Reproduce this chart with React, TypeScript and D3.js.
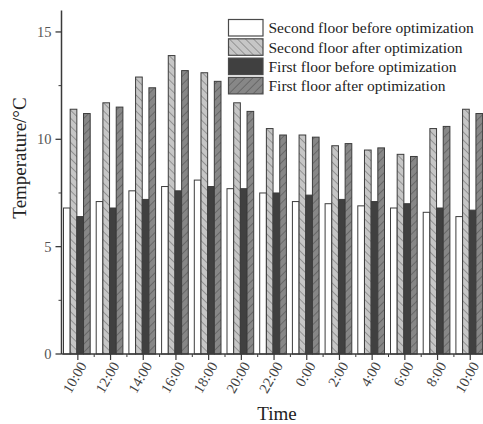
import React from "react";
import * as d3 from "d3";

const categories = ["10:00", "12:00", "14:00", "16:00", "18:00", "20:00", "22:00", "0:00", "2:00", "4:00", "6:00", "8:00", "10:00 "];
const secondBefore = [6.8, 7.1, 7.6, 7.8, 8.1, 7.7, 7.5, 7.1, 7.0, 6.9, 6.8, 6.6, 6.4];
const secondAfter = [11.4, 11.7, 12.9, 13.9, 13.1, 11.7, 10.5, 10.2, 9.7, 9.5, 9.3, 10.5, 11.4];
const firstBefore = [6.4, 6.8, 7.2, 7.6, 7.8, 7.7, 7.5, 7.4, 7.2, 7.1, 7.0, 6.8, 6.7];
const firstAfter = [11.2, 11.5, 12.4, 13.2, 12.7, 11.3, 10.2, 10.1, 9.8, 9.6, 9.2, 10.6, 11.2];
const seriesNames = [
  "Second floor before optimization",
  "Second floor after optimization",
  "First floor before optimization",
  "First floor after optimization",
];
const yTicks = [0, 5, 10, 15];

const W = 483;
const H = 424;
const x0 = 61.5;
const groupW = 32.7;
const yBase = 354;
const pxPerUnit = 21.47;

export default function App() {
  const series = [secondBefore, secondAfter, firstBefore, firstAfter];
  const fills = ["#ffffff", "url(#patSA)", "#404040", "url(#patFA)"];
  const x = d3
    .scaleBand<string>()
    .domain(categories)
    .range([x0, x0 + groupW * categories.length])
    .paddingInner(0)
    .paddingOuter(0);
  const inner = d3
    .scaleBand<number>()
    .domain([0, 1, 2, 3])
    .range([2, groupW - 4]);
  const y = d3.scaleLinear().domain([0, 16]).range([yBase, yBase - 16 * pxPerUnit]);
  const minorY = d3.range(2.5, 16, 5);
  const font = "'Liberation Serif', 'Times New Roman', serif";
  const axisColor = "#3a3a3a";

  return (
    <svg
      width={W}
      height={H}
      style={{ position: "absolute", left: 0, top: 0, background: "#fff" }}
      fontFamily={font}
    >
      <defs>
        <pattern id="patSA" patternUnits="userSpaceOnUse" width={5.7} height={5.7} patternTransform="rotate(-45)">
          <rect width={5.7} height={5.7} fill="#c6c6c6" />
          <line x1={0} y1={0} x2={0} y2={5.7} stroke="#6a6a6a" strokeWidth={1.1} />
        </pattern>
        <pattern id="patFA" patternUnits="userSpaceOnUse" width={5.7} height={5.7} patternTransform="rotate(45)">
          <rect width={5.7} height={5.7} fill="#878787" />
          <line x1={0} y1={0} x2={0} y2={5.7} stroke="#505050" strokeWidth={1.1} />
        </pattern>
      </defs>

      {/* bars */}
      {categories.map((c, i) =>
        series.map((s, k) => (
          <rect
            key={c + k}
            x={(x(c) as number) + (inner(k) as number)}
            y={y(s[i])}
            width={inner.bandwidth()}
            height={yBase - y(s[i])}
            fill={fills[k]}
            stroke="#3c3c3c"
            strokeWidth={1}
          />
        ))
      )}

      {/* y axis */}
      <line x1={x0} x2={x0} y1={y(16)} y2={yBase} stroke={axisColor} strokeWidth={1.5} />
      {yTicks.map((t) => (
        <g key={t}>
          <line x1={x0 - 6} x2={x0} y1={y(t)} y2={y(t)} stroke={axisColor} strokeWidth={1.3} />
          <text x={x0 - 10} y={y(t)} dy="0.35em" textAnchor="end" fontSize={14.5} fill="#555">
            {t}
          </text>
        </g>
      ))}
      {minorY.map((t) => (
        <line key={t} x1={x0 - 3} x2={x0} y1={y(t)} y2={y(t)} stroke={axisColor} strokeWidth={1} />
      ))}

      {/* x axis */}
      <line x1={x0} x2={W} y1={yBase} y2={yBase} stroke={axisColor} strokeWidth={1.5} />
      {categories.map((c, i) => {
        const cx = (x(c) as number) + groupW / 2;
        const bx = (x(c) as number) + groupW;
        return (
          <g key={"xt" + i}>
            <line x1={cx} x2={cx} y1={yBase} y2={yBase + 6} stroke={axisColor} strokeWidth={1.2} />
            <line x1={bx} x2={bx} y1={yBase} y2={yBase + 3} stroke={axisColor} strokeWidth={1} />
            <text
              transform={`translate(${cx + 5},${yBase + 9}) rotate(-60)`}
              textAnchor="end"
              dy="0.35em"
              fontSize={14.5}
              fill="#444"
            >
              {c.trim()}
            </text>
          </g>
        );
      })}

      {/* axis titles */}
      <text x={277} y={420} textAnchor="middle" fontSize={19} fill="#222">
        Time
      </text>
      <text
        transform={`translate(26,${158}) rotate(-90)`}
        textAnchor="middle"
        fontSize={19}
        fill="#222"
      >
        Temperature/°C
      </text>

      {/* legend */}
      {seriesNames.map((n, k) => (
        <g key={n} transform={`translate(228.5,${19.5 + k * 19.3})`}>
          <rect width={34.5} height={16.5} fill={fills[k]} stroke="#4a4a4a" strokeWidth={1.2} />
          <text x={40} y={8.5} dy="0.35em" fontSize={15.5} fill="#222">
            {n}
          </text>
        </g>
      ))}
    </svg>
  );
}
